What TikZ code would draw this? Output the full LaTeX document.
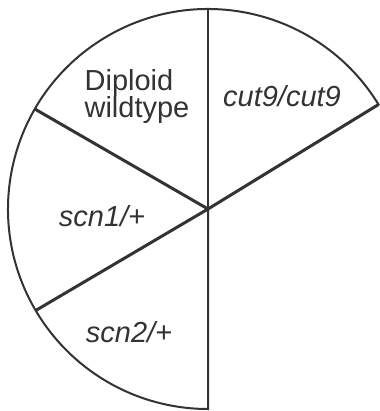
\documentclass[tikz,border=0pt]{standalone}
\usepackage{fontspec}
\setmainfont{Liberation Sans}
\usetikzlibrary{calc}
\begin{document}
\begin{tikzpicture}[x=1pt,y=-1pt,
  thinline/.style={draw=black!80,line width=2pt},
  thickline/.style={draw=black!80,line width=3pt},
  lbl/.style={anchor=base,inner sep=0pt,font=\fontsize{29}{29}\selectfont,text=black!80},
  ilbl/.style={lbl,font=\fontsize{29}{29}\selectfont\itshape}]
\useasboundingbox (0,0) rectangle (379,411);
\coordinate (c) at (208,209);
\coordinate (top) at ($(c)+(90:200pt)$);
\coordinate (bot) at ($(c)+(270:200pt)$);
\coordinate (ur) at ($(c)+(31.5:200pt)$);
\coordinate (ul) at ($(c)+(150:200pt)$);
\coordinate (ll) at ($(c)+(210.5:200pt)$);
\draw[thinline,line join=miter] (c) -- (ur) arc[start angle=31.5, end angle=270, radius=200pt] -- (c);
\draw[thinline] (top) -- (c);
\draw[thickline] (c) -- (ur);
\draw[thickline] (c) -- (ul);
\draw[thickline] (c) -- (ll);
\node[lbl] (dip) at (129,91) {Diploid};
\node[lbl] (wt) at (137,118) {wildtype};
\node[ilbl] (cut) at (282,107) {cut9/cut9};
\node[ilbl] (s1) at (102,226) {scn1/+};
\node[ilbl] (s2) at (129,342) {scn2/+};
\end{tikzpicture}
\end{document}
